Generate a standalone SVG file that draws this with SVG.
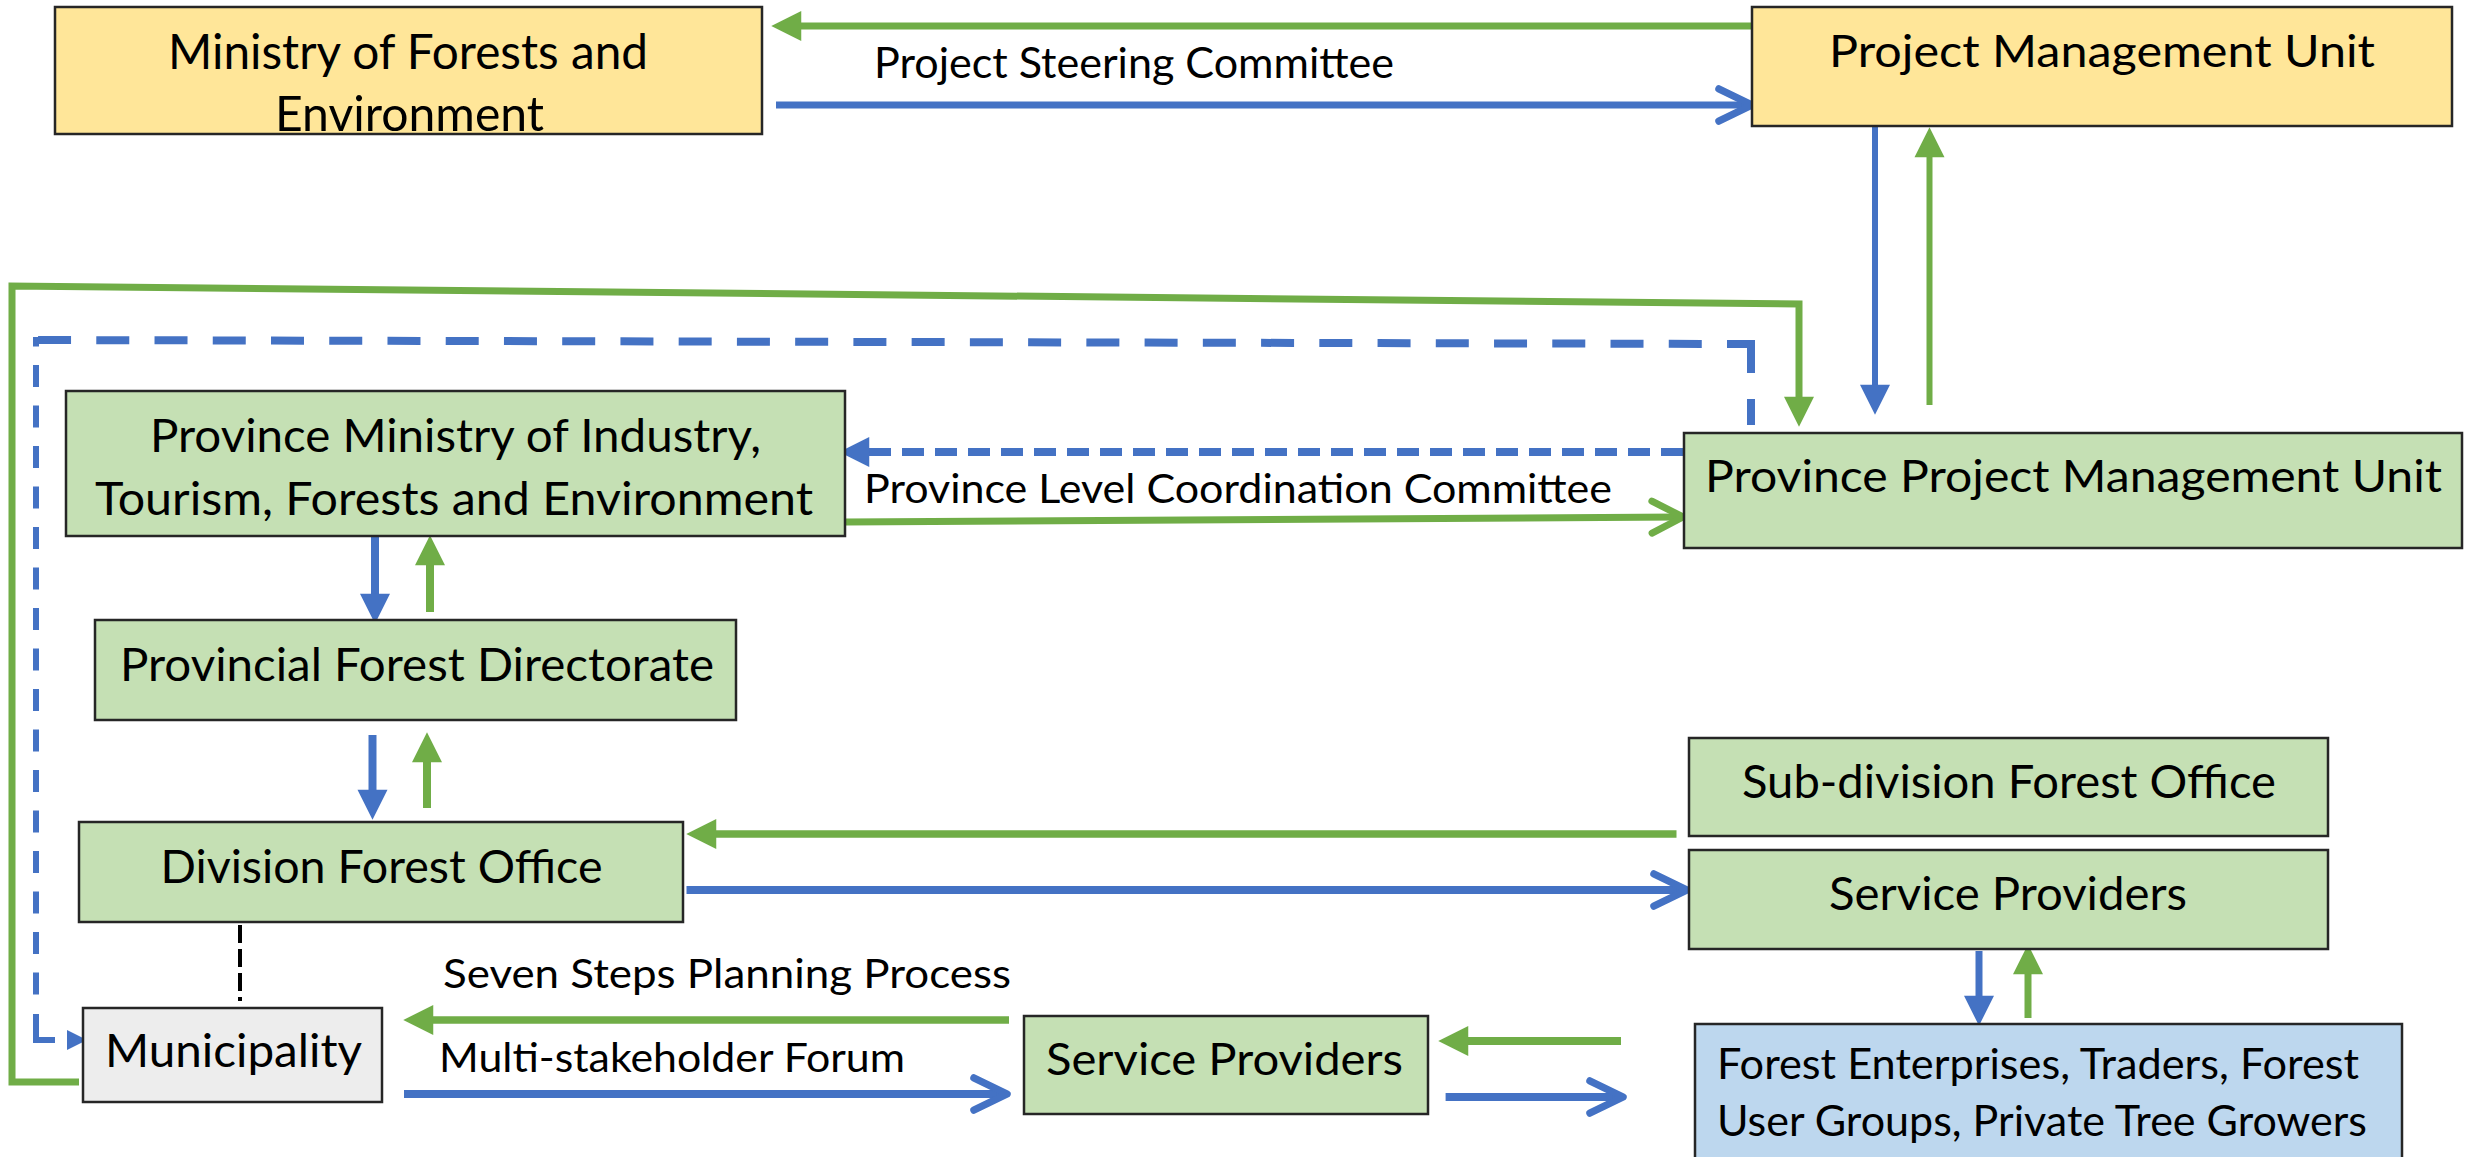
<svg xmlns="http://www.w3.org/2000/svg" width="2476" height="1157" viewBox="0 0 2476 1157">
<style>
  .node rect { stroke: #262626; stroke-width: 2.5; }
  .yellow { fill: #FFE699; }
  .green { fill: #C5E0B4; }
  .grey { fill: #EDEDED; }
  .blue { fill: #BDD7EE; }
  text { font-family: Lato, "Open Sans", "Liberation Sans", sans-serif; fill: #000; }
  .g { stroke: #70AD47; fill: none; }
  .b { stroke: #4472C4; fill: none; }
  .k { stroke: #000; fill: none; }
</style>
<defs>
  <marker id="triG" markerUnits="userSpaceOnUse" orient="auto" refX="1" refY="0" markerWidth="30" markerHeight="30" viewBox="0 -12 24 24" overflow="visible">
    <path d="M0,-12 L24,0 L0,12 z" fill="#70AD47"/>
  </marker>
  <marker id="triB" markerUnits="userSpaceOnUse" orient="auto" refX="1" refY="0" markerWidth="30" markerHeight="30" viewBox="0 -12 24 24" overflow="visible">
    <path d="M0,-12 L24,0 L0,12 z" fill="#4472C4"/>
  </marker>
  <marker id="triBs" markerUnits="userSpaceOnUse" orient="auto" refX="0" refY="0" markerWidth="20" markerHeight="20" viewBox="0 -8 16 16" overflow="visible">
    <path d="M0,-8 L16,0 L0,8 z" fill="#4472C4"/>
  </marker>
  <marker id="chevG" markerUnits="userSpaceOnUse" orient="auto" refX="-3" refY="0" markerWidth="40" markerHeight="40" viewBox="-36 -20 40 40" overflow="visible">
    <path d="M-31,-16 L0,0 L-31,16" fill="none" stroke="#70AD47" stroke-width="7" stroke-linecap="round" stroke-linejoin="round"/>
  </marker>
  <marker id="chevB" markerUnits="userSpaceOnUse" orient="auto" refX="-3" refY="0" markerWidth="40" markerHeight="40" viewBox="-36 -20 40 40" overflow="visible">
    <path d="M-33,-16 L0,0 L-33,16" fill="none" stroke="#4472C4" stroke-width="7.5" stroke-linecap="round" stroke-linejoin="round"/>
  </marker>
</defs>

<g id="connectors">
  <!-- PMU -> Ministry (green) -->
  <path class="g" stroke-width="7" d="M1752 26 H800" marker-end="url(#triG)"/>
  <!-- Ministry -> PMU (blue) -->
  <path class="b" stroke-width="7" d="M776 105 H1749" marker-end="url(#chevB)"/>
  <!-- PMU -> PPMU (blue down) -->
  <path class="b" stroke-width="6" d="M1875 126 V386" marker-end="url(#triB)"/>
  <!-- PPMU -> PMU (green up) -->
  <path class="g" stroke-width="6" d="M1929.5 405 V156" marker-end="url(#triG)"/>
  <!-- Municipality -> PPMU green loop -->
  <path class="g" stroke-width="7" stroke-linejoin="miter" d="M79 1082 H12 V286 L1799 304 V398" marker-end="url(#triG)"/>
  <!-- PPMU -> Municipality blue dashed loop -->
  <path class="b" stroke-width="8" stroke-dasharray="29 26" d="M1751 344 V425"/>
  <path class="b" stroke-width="8" stroke-dasharray="33 25.24" stroke-dashoffset="5" d="M1755 344 L33 340"/>
  <path class="b" stroke-width="6" stroke-dasharray="22 18.5" stroke-dashoffset="12.5" d="M36 337 V1012"/>
  <path class="b" stroke-width="6" d="M36 1014 V1040 H55"/>
  <path class="b" stroke-width="0" d="M66 1040 H67" marker-end="url(#triBs)"/>
  <!-- PPMU -> Province Ministry (blue dashed) -->
  <path class="b" stroke-width="8" stroke-dasharray="22 11" d="M1683 452 H868"/>
  <path class="b" stroke-width="0.1" d="M870 452 H868" marker-end="url(#triB)"/>
  <!-- Province Ministry -> PPMU (green) -->
  <path class="g" stroke-width="7" d="M846 522 L1680 517" marker-end="url(#chevG)"/>
  <!-- PM -> PFD blue down, PFD -> PM green up -->
  <path class="b" stroke-width="8" d="M375 536 V595" marker-end="url(#triB)"/>
  <path class="g" stroke-width="8" d="M430 612 V564" marker-end="url(#triG)"/>
  <!-- PFD -> DFO blue down, DFO -> PFD green up -->
  <path class="b" stroke-width="8" d="M372.5 735 V791" marker-end="url(#triB)"/>
  <path class="g" stroke-width="8" d="M427 808 V761" marker-end="url(#triG)"/>
  <!-- SDFO -> DFO green -->
  <path class="g" stroke-width="7.5" d="M1676.5 834 H715" marker-end="url(#triG)"/>
  <!-- DFO -> Service Providers blue -->
  <path class="b" stroke-width="8" d="M686.5 890 H1684" marker-end="url(#chevB)"/>
  <!-- DFO - Municipality black dashed -->
  <path class="k" stroke-width="4" stroke-dasharray="18 6" d="M240 925 V1001"/>
  <!-- SP bottom -> Municipality green -->
  <path class="g" stroke-width="7.5" d="M1009 1020 H432" marker-end="url(#triG)"/>
  <!-- Municipality -> SP bottom blue -->
  <path class="b" stroke-width="8" d="M404 1094 H1004" marker-end="url(#chevB)"/>
  <!-- SP right -> FE blue down, FE -> SP right green up -->
  <path class="b" stroke-width="7" d="M1979 951 V997" marker-end="url(#triB)"/>
  <path class="g" stroke-width="7" d="M2028 1018 V973" marker-end="url(#triG)"/>
  <!-- FE -> SP bottom green -->
  <path class="g" stroke-width="8" d="M1621 1041 H1467" marker-end="url(#triG)"/>
  <!-- SP bottom -> FE blue -->
  <path class="b" stroke-width="8" d="M1445.6 1097 H1620" marker-end="url(#chevB)"/>
</g>

<g id="labels">
  <text x="874" y="78" font-size="42" textLength="520" lengthAdjust="spacingAndGlyphs">Project Steering Committee</text>
  <text x="864" y="503" font-size="41" textLength="748" lengthAdjust="spacingAndGlyphs">Province Level Coordination Committee</text>
  <text x="443" y="988" font-size="40" textLength="568" lengthAdjust="spacingAndGlyphs">Seven Steps Planning Process</text>
  <text x="439" y="1072" font-size="41" textLength="466" lengthAdjust="spacingAndGlyphs">Multi-stakeholder Forum</text>
</g>

<g id="ministry" class="node">
  <rect class="yellow" x="55" y="7" width="707" height="127"/>
  <text x="168" y="68.5" font-size="48" textLength="480" lengthAdjust="spacingAndGlyphs">Ministry of Forests and</text>
  <text x="275" y="131" font-size="48" textLength="269" lengthAdjust="spacingAndGlyphs">Environment</text>
</g>
<g id="pmu" class="node">
  <rect class="yellow" x="1752" y="7" width="700" height="119"/>
  <text x="1829" y="67" font-size="45" textLength="546" lengthAdjust="spacingAndGlyphs">Project Management Unit</text>
</g>
<g id="province-ministry" class="node">
  <rect class="green" x="66" y="391" width="779" height="145"/>
  <text x="150" y="452" font-size="47" textLength="611" lengthAdjust="spacingAndGlyphs">Province Ministry of Industry,</text>
  <text x="95" y="515" font-size="47" textLength="718" lengthAdjust="spacingAndGlyphs">Tourism, Forests and Environment</text>
</g>
<g id="ppmu" class="node">
  <rect class="green" x="1684" y="433" width="778" height="115"/>
  <text x="1705" y="492" font-size="44" textLength="737" lengthAdjust="spacingAndGlyphs">Province Project Management Unit</text>
</g>
<g id="pfd" class="node">
  <rect class="green" x="95" y="620" width="641" height="100"/>
  <text x="120" y="681" font-size="46" textLength="594" lengthAdjust="spacingAndGlyphs">Provincial Forest Directorate</text>
</g>
<g id="dfo" class="node">
  <rect class="green" x="79" y="822" width="604" height="100"/>
  <text x="160.5" y="883" font-size="47" textLength="442" lengthAdjust="spacingAndGlyphs">Division Forest Office</text>
</g>
<g id="municipality" class="node">
  <rect class="grey" x="83" y="1008" width="299" height="94"/>
  <text x="105" y="1067" font-size="46" textLength="257" lengthAdjust="spacingAndGlyphs">Municipality</text>
</g>
<g id="service-providers-bottom" class="node">
  <rect class="green" x="1024" y="1016" width="404" height="98"/>
  <text x="1046" y="1074.5" font-size="44" textLength="357" lengthAdjust="spacingAndGlyphs">Service Providers</text>
</g>
<g id="sdfo" class="node">
  <rect class="green" x="1689" y="738" width="639" height="98"/>
  <text x="1742" y="798" font-size="47" textLength="534" lengthAdjust="spacingAndGlyphs">Sub-division Forest Office</text>
</g>
<g id="service-providers-right" class="node">
  <rect class="green" x="1689" y="850" width="639" height="99"/>
  <text x="1829" y="910" font-size="47" textLength="358" lengthAdjust="spacingAndGlyphs">Service Providers</text>
</g>
<g id="forest-enterprises" class="node">
  <rect class="blue" x="1695" y="1024" width="707" height="150"/>
  <text x="1717" y="1079" font-size="42" textLength="642" lengthAdjust="spacingAndGlyphs">Forest Enterprises, Traders, Forest</text>
  <text x="1717" y="1136" font-size="42" textLength="650" lengthAdjust="spacingAndGlyphs">User Groups, Private Tree Growers</text>
</g>
</svg>
